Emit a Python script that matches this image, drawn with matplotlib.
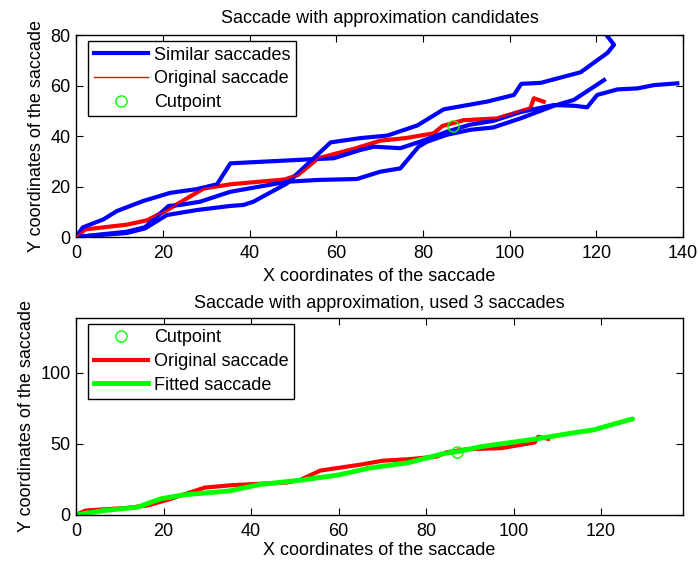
import numpy as np
import matplotlib
matplotlib.use("Agg")
import matplotlib.pyplot as plt

plt.rcParams['font.family'] = ['Liberation Sans', 'DejaVu Sans']
plt.rcParams['font.size'] = 13

# original saccade (x, y)
orig_x = [0, 2.1, 11.7, 16.3, 20.9, 29.4, 35.6, 48.1, 51.2, 55.8, 64.6, 70.2, 76.0, 82.5, 84.5, 89.4, 97.1, 104.8, 105.6, 107.9]
orig_y = [0, 3.0, 4.9, 6.6, 10.6, 19.2, 20.9, 22.8, 24.6, 31.2, 35.2, 38.2, 39.2, 41.1, 44.0, 46.3, 47.0, 51.0, 55.0, 53.6]

# similar saccades found in the database
sim1_x = [0, 1.5, 6.3, 9.4, 15.5, 21.7, 27.9, 32.5, 35.6, 54.0, 59.4, 65.6, 68.7, 74.8, 79.4, 85.5, 90.8, 96.2, 102.5, 110.2, 115.0, 117.9, 120.2, 124.9, 129.5, 133.3, 138.7]
sim1_y = [0, 3.8, 7.0, 10.3, 14.3, 17.5, 19.0, 20.9, 29.2, 30.8, 31.2, 34.5, 35.8, 35.2, 37.8, 41.7, 44.5, 46.0, 49.5, 52.3, 52.0, 51.4, 56.3, 58.5, 58.9, 60.2, 60.9]

sim2_x = [0, 11.7, 15.9, 21.3, 24.0, 28.6, 35.5, 48.6, 55.6, 64.8, 70.2, 74.8, 79.0, 81.0, 85.5, 91.0, 96.2, 102.5, 110.2, 114.8, 121.8]
sim2_y = [0, 2.1, 3.9, 12.3, 12.7, 14.0, 17.9, 21.9, 22.6, 23.0, 25.9, 27.2, 35.8, 37.8, 40.5, 42.5, 43.4, 47.0, 52.0, 54.3, 62.2]

sim3_x = [0, 11.7, 15.9, 20.9, 27.9, 35.5, 38.6, 40.9, 48.6, 58.7, 65.6, 71.8, 78.7, 84.8, 94.9, 101.0, 102.7, 107.2, 116.4, 122.6, 124.1, 122.6, 121.0]
sim3_y = [0, 1.6, 3.4, 8.7, 10.7, 12.3, 12.7, 14.0, 21.2, 37.5, 39.2, 40.2, 44.2, 50.6, 53.7, 56.3, 60.7, 61.1, 65.3, 73.0, 76.2, 79.5, 83.0]

# fitted saccade built from 3 similar saccades
fit_x = [0, 6.4, 14.0, 19.3, 24.6, 35.1, 42.0, 51.8, 60.1, 66.9, 76.0, 84.3, 87.3, 92.6, 105.4, 113.0, 118.3, 123.6, 127.2]
fit_y = [0, 3.0, 5.4, 11.3, 14.1, 16.9, 21.4, 24.6, 28.2, 32.9, 36.8, 43.4, 44.6, 48.1, 53.6, 57.5, 59.9, 64.6, 67.6]

cut_x = 87.0
cut_y = 44.0

fig = plt.figure(figsize=(6.99, 5.67), dpi=100)
ax1 = fig.add_axes([0.109, 0.582, 0.868, 0.356])
ax2 = fig.add_axes([0.109, 0.092, 0.868, 0.347])

legend_kw = dict(loc='upper left', bbox_to_anchor=(0.02, 0.97), borderaxespad=0,
                 fancybox=False, framealpha=1, edgecolor='black', handlelength=3.0,
                 labelspacing=0.37, borderpad=0.3, handletextpad=0.35)

# top: original saccade with candidates
ax1.plot(orig_x, orig_y, color='red', lw=3, zorder=1)
for sx, sy in [(sim1_x, sim1_y), (sim2_x, sim2_y), (sim3_x, sim3_y)]:
    ax1.plot(sx, sy, color='blue', lw=3, zorder=2)
ax1.plot(orig_x, orig_y, color='red', lw=1, zorder=3)
ax1.plot([cut_x], [cut_y], 'o', mfc='none', mec='#00ff00', ms=8, mew=1, zorder=4)

h1, = ax1.plot([], [], color='blue', lw=3, label='Similar saccades')
h2, = ax1.plot([], [], color='red', lw=1, label='Original saccade')
h3, = ax1.plot([], [], 'o', mfc='none', mec='#00ff00', ms=8, mew=1, label='Cutpoint')
ax1.set_xlim(0, 140)
ax1.set_ylim(0, 80)
ax1.set_xticks(np.arange(0, 141, 20))
ax1.set_yticks(np.arange(0, 81, 20))
ax1.set_title('Saccade with approximation candidates', fontsize=13, pad=9)
ax1.set_xlabel('X coordinates of the saccade', labelpad=4)
ax1.set_ylabel('Y coordinates of the saccade', labelpad=4)
ax1.legend(handles=[h1, h2, h3], **legend_kw)

# bottom: fitted result
ax2.plot(orig_x, orig_y, color='red', lw=3, zorder=1)
ax2.plot(fit_x, fit_y, color='#00ff00', lw=3.5, solid_capstyle='round', zorder=2)
ax2.plot([cut_x], [cut_y], 'o', mfc='none', mec='#00ff00', ms=8, mew=1, zorder=3)

g1, = ax2.plot([], [], 'o', mfc='none', mec='#00ff00', ms=8, mew=1, label='Cutpoint')
g2, = ax2.plot([], [], color='red', lw=3, label='Original saccade')
g3, = ax2.plot([], [], color='#00ff00', lw=3.5, label='Fitted saccade')
lim = max(sim1_x)
ax2.set_xlim(0, lim)
ax2.set_ylim(0, lim)
ax2.set_xticks(np.arange(0, 121, 20))
ax2.set_yticks([0, 50, 100])
ax2.set_title('Saccade with approximation, used 3 saccades', fontsize=13, pad=7)
ax2.set_xlabel('X coordinates of the saccade', labelpad=1)
ax2.set_ylabel('Y coordinates of the saccade', labelpad=4)
ax2.legend(handles=[g1, g2, g3], **legend_kw)

for ax in (ax1, ax2):
    ax.tick_params(direction='in', top=True, right=True, length=5, width=0.8, pad=4)
    ax.tick_params(axis='x', pad=6)
    for s in ax.spines.values():
        s.set_linewidth(1)

fig.savefig('out.png', dpi=100)
